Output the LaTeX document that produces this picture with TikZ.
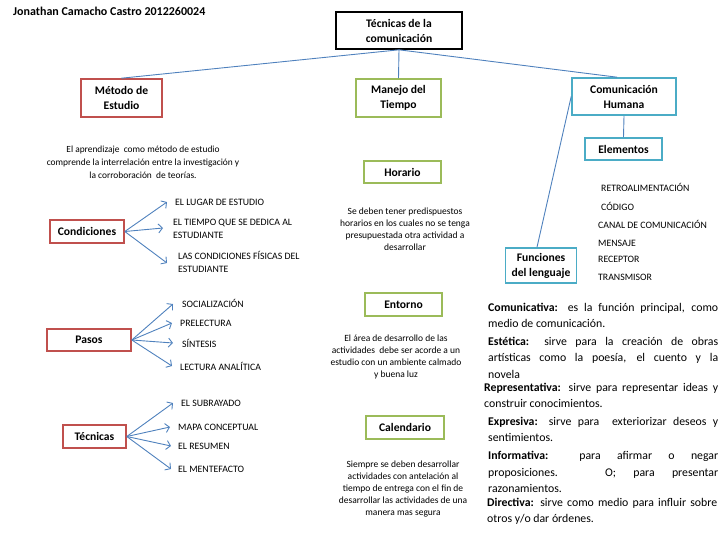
\documentclass[tikz,border=0pt]{standalone}
\usepackage{fontspec}
\setmainfont{Carlito}
\usetikzlibrary{arrows.meta}
\definecolor{lnblue}{RGB}{79,129,189}
\definecolor{bred}{RGB}{192,80,77}
\definecolor{bgreen}{RGB}{155,187,89}
\definecolor{bblue}{RGB}{75,172,198}
\newcommand\rpar[1]{\parbox[t]{230pt}{\fontsize{11.8}{16.5}\selectfont #1}}
\begin{document}
\begin{tikzpicture}[x=1pt,y=-1pt,
 box/.style={draw, line width=1.6pt, align=center, inner sep=1pt, fill=white,
   font=\fontsize{11.6}{15}\selectfont\bfseries},
 rbox/.style={box, draw=bred},
 gbox/.style={box, draw=bgreen},
 bbox/.style={box, draw=bblue},
 conn/.style={draw=lnblue, line width=0.9pt},
 arr/.style={conn, -{Straight Barb[length=4pt,width=9pt]}},
 item/.style={anchor=west, inner sep=0, align=left, font=\fontsize{9.8}{13}\selectfont},
 para/.style={align=center, inner sep=0, font=\fontsize{9.5}{12}\selectfont},
 rp/.style={anchor=base west, inner sep=0},
]
\useasboundingbox (0,0) rectangle (728,546);

\node[anchor=west, inner sep=0, font=\fontsize{12}{14}\selectfont\bfseries] (title) at (13,11) {Jonathan Camacho Castro 2012260024};

% boxes
\node[box, draw=black, minimum width=126pt, minimum height=37pt] (root) at (399,30.5) {Técnicas de la\\comunicación};
\node[rbox, minimum width=81pt, minimum height=38pt] (met) at (121.5,98) {Método de\\Estudio};
\node[gbox, minimum width=85pt, minimum height=38pt] (man) at (398.5,98) {Manejo del\\Tiempo};
\node[bbox, minimum width=104pt, minimum height=37pt] (com) at (624,96.5) {Comunicación\\Humana};
\node[bbox, minimum width=77pt, minimum height=22pt] (ele) at (623.5,149) {Elementos};
\node[bbox, minimum width=71pt, minimum height=35pt] (fun) at (541,265.5) {Funciones\\del lenguaje};

\node[rbox, minimum width=74pt, minimum height=23pt] (cond) at (87,231.5) {Condiciones};
\node[rbox, minimum width=84pt, minimum height=22pt] (pas) at (89,340) {Pasos};
\node[rbox, minimum width=63pt, minimum height=23pt] (tec) at (94.5,436.5) {Técnicas};

\node[gbox, minimum width=77pt, minimum height=22pt] (hor) at (402.5,172) {Horario};
\node[gbox, minimum width=77pt, minimum height=23pt] (ent) at (403.5,304.5) {Entorno};
\node[gbox, minimum width=78pt, minimum height=23pt] (cal) at (405,427.5) {Calendario};

% main connectors
\draw[conn] (root.south) -- (met.north);
\draw[conn] (root.south) -- (man.north);
\draw[conn] (root.south) -- ([xshift=-7pt]com.north);
\draw[conn] (com.south) -- (ele.north);
\draw[conn] (com.west) -- ([xshift=-4pt]fun.north);

% left paragraph
\node[para, font=\fontsize{9.4}{13}\selectfont] (apr) at (143,162) {El aprendizaje \ como método de estudio\\comprende la interrelación entre la investigación y\\la corroboración \ de teorías.};

% condiciones items
\node[item] (c1t) at (175,202) {EL LUGAR DE ESTUDIO};
\node[item] (c2t) at (173,228.5) {EL TIEMPO QUE SE DEDICA AL\\ESTUDIANTE};
\node[item] (c3t) at (178,261.5) {LAS CONDICIONES FÍSICAS DEL\\ESTUDIANTE};
\coordinate (c1) at (167,202);
\coordinate (c2) at (163,228);
\coordinate (c3) at (167,263);
\draw[arr] (cond.east) -- (c1);
\draw[arr] (cond.east) -- (c2);
\draw[arr] (cond.east) -- (c3);

% pasos items
\node[item] (p1t) at (182,303.5) {SOCIALIZACIÓN};
\node[item] (p2t) at (180,323) {PRELECTURA};
\node[item] (p3t) at (182,343) {SÍNTESIS};
\node[item] (p4t) at (180,366.5) {LECTURA ANALÍTICA};
\coordinate (p1) at (173,304);
\coordinate (p2) at (172,323);
\coordinate (p3) at (173,343);
\coordinate (p4) at (172,366);
\draw[arr] (pas.east) -- (p1);
\draw[arr] (pas.east) -- (p2);
\draw[arr] (pas.east) -- (p3);
\draw[arr] (pas.east) -- (p4);

% tecnicas items
\node[item] (t1t) at (181,403) {EL SUBRAYADO};
\node[item] (t2t) at (178,427) {MAPA CONCEPTUAL};
\node[item] (t3t) at (178,446) {EL RESUMEN};
\node[item] (t4t) at (178,469) {EL MENTEFACTO};
\coordinate (t1) at (173,403);
\coordinate (t2) at (170,427);
\coordinate (t3) at (171,446);
\coordinate (t4) at (171,469);
\draw[arr] (tec.east) -- (t1);
\draw[arr] (tec.east) -- (t2);
\draw[arr] (tec.east) -- (t3);
\draw[arr] (tec.east) -- (t4);

% middle paragraphs
\node[para] (horp) at (405,229.5) {Se deben tener predispuestos\\horarios en los cuales no se tenga\\presupuestada otra actividad a\\desarrollar};
\node[para] (entp) at (396,357) {El área de desarrollo de las\\actividades \ debe ser acorde a un\\estudio con un ambiente calmado\\y buena luz};
\node[para] (calp) at (403,489.5) {Siempre se deben desarrollar\\actividades con antelación al\\tiempo de entrega con el fin de\\desarrollar las actividades de una\\manera mas segura};

% elementos list
\node[item] (e1) at (601,187) {RETROALIMENTACIÓN};
\node[item] (e2) at (601,206) {CÓDIGO};
\node[item] (e3) at (598,224.5) {CANAL DE COMUNICACIÓN};
\node[item] (e4) at (598,243) {MENSAJE};
\node[item] (e5) at (598,259.5) {RECEPTOR};
\node[item] (e6) at (598,277) {TRANSMISOR};

% funciones del lenguaje
\node[rp] (f1) at (488,311) {\rpar{\textbf{Comunicativa:} es la función principal, como\linebreak medio de comunicación.}};
\node[rp] (f2) at (488,345) {\rpar{\textbf{Estética:} sirve para la creación de obras\linebreak artísticas como la poesía, el cuento y la\linebreak novela}};
\node[rp] (f3) at (484,391) {\parbox[t]{234pt}{\fontsize{11.8}{16}\selectfont\textbf{Representativa:} sirve para representar ideas y\linebreak construir conocimientos.}};
\node[rp] (f4) at (488,425) {\rpar{\textbf{Expresiva:} sirve para \ exteriorizar deseos y\linebreak sentimientos.}};
\node[rp] (f5) at (488,459.5) {\rpar{\textbf{Informativa:} para afirmar o negar\linebreak proposiciones. O; para presentar\linebreak razonamientos.}};
\node[rp] (f6) at (487,506) {\rpar{\textbf{Directiva:} sirve como medio para influir sobre\linebreak otros y/o dar órdenes.}};
\end{tikzpicture}
\end{document}
